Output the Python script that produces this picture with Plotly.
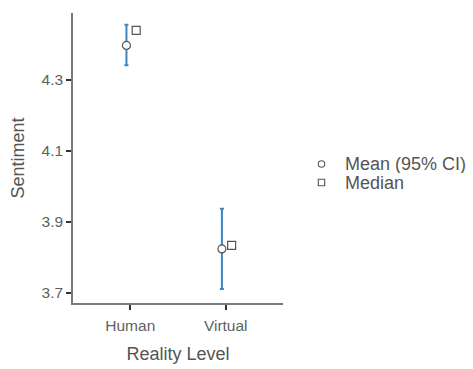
import plotly.graph_objects as go

# Estimated marginal sentiment by reality level
levels = ["Human", "Virtual"]
mean_vals = [4.396, 3.824]
ci_lower = [4.340, 3.711]
ci_upper = [4.454, 3.937]
median_vals = [4.438, 3.834]
y_ticks = [3.7, 3.9, 4.1, 4.3]
legend_labels = ["Mean (95% CI)", "Median"]

pos = list(range(len(levels)))
mean_x = [p - 0.04 for p in pos]
median_x = [p + 0.062 for p in pos]

W, H = 473, 369
ML, MR, MT, MB = 73, 190, 13, 66
plot_w = W - ML - MR
plot_h = H - MT - MB

marker_grey = "#555555"
title_grey = "#555555"
tick_grey = "#5f5f5f"
FONT = "Arial, 'Liberation Sans', sans-serif"

fig = go.Figure()

fig.add_trace(go.Scatter(
    x=mean_x, y=mean_vals, mode="markers",
    name=legend_labels[0], showlegend=False,
    error_y=dict(type="data", symmetric=False,
                 array=[u - m for u, m in zip(ci_upper, mean_vals)],
                 arrayminus=[m - l for m, l in zip(mean_vals, ci_lower)],
                 color="#3A87C4", thickness=2, width=2),
    marker=dict(symbol="circle", size=8, color="white",
                line=dict(color=marker_grey, width=1.2)),
))

fig.add_trace(go.Scatter(
    x=median_x, y=median_vals, mode="markers",
    name=legend_labels[1], showlegend=False,
    marker=dict(symbol="square", size=8, color="white",
                line=dict(color=marker_grey, width=1.2)),
))


def px_to_paper_x(px):
    return (px - ML) / plot_w


def px_to_paper_y(py):
    return (H - MB - py) / plot_h


# Key: symbol glyphs and their labels beside the plot
key_x, text_x = 321.5, 344
key_rows = [164, 182.5]
shapes = []
annotations = []
for i, (label, row) in enumerate(zip(legend_labels, key_rows)):
    shapes.append(dict(
        type="circle" if i == 0 else "rect",
        xref="paper", yref="paper",
        xsizemode="pixel", ysizemode="pixel",
        xanchor=px_to_paper_x(key_x), yanchor=px_to_paper_y(row),
        x0=-3.2, x1=3.2, y0=-3.2, y1=3.2,
        line=dict(color=marker_grey, width=1.1),
        fillcolor="white",
    ))
    annotations.append(dict(
        text=label, xref="paper", yref="paper",
        x=px_to_paper_x(text_x), y=px_to_paper_y(row),
        xanchor="left", yanchor="middle", showarrow=False,
        height=18, valign="middle", borderpad=0,
        font=dict(size=18, color=title_grey, family=FONT),
    ))

fig.update_layout(
    width=W, height=H,
    margin=dict(l=ML, r=MR, t=MT, b=MB, autoexpand=False),
    paper_bgcolor="white", plot_bgcolor="white",
    font=dict(family=FONT, color=title_grey),
    showlegend=False,
    shapes=shapes,
    annotations=annotations,
    xaxis=dict(
        range=[-0.6, 1.6], automargin=False,
        tickmode="array", tickvals=pos, ticktext=levels,
        showline=True, linecolor="#7a7a7a", linewidth=1.5,
        ticks="outside", ticklen=5, tickcolor="#333333", tickwidth=1.5,
        ticklabelstandoff=3,
        showgrid=False, zeroline=False,
        tickfont=dict(size=15.5, color=tick_grey),
        title=dict(text="Reality Level", font=dict(size=18, color=title_grey), standoff=14),
    ),
    yaxis=dict(
        range=[3.672, 4.487], automargin=False,
        tickmode="array", tickvals=y_ticks,
        ticktext=[f"{v:.1f}" for v in y_ticks],
        showline=True, linecolor="#7a7a7a", linewidth=1.5,
        ticks="outside", ticklen=5, tickcolor="#333333", tickwidth=1.5,
        showgrid=False, zeroline=False,
        tickfont=dict(size=15.5, color=tick_grey),
        title=dict(text="Sentiment", font=dict(size=18, color=title_grey), standoff=12),
    ),
)

fig.write_html("out.html")
